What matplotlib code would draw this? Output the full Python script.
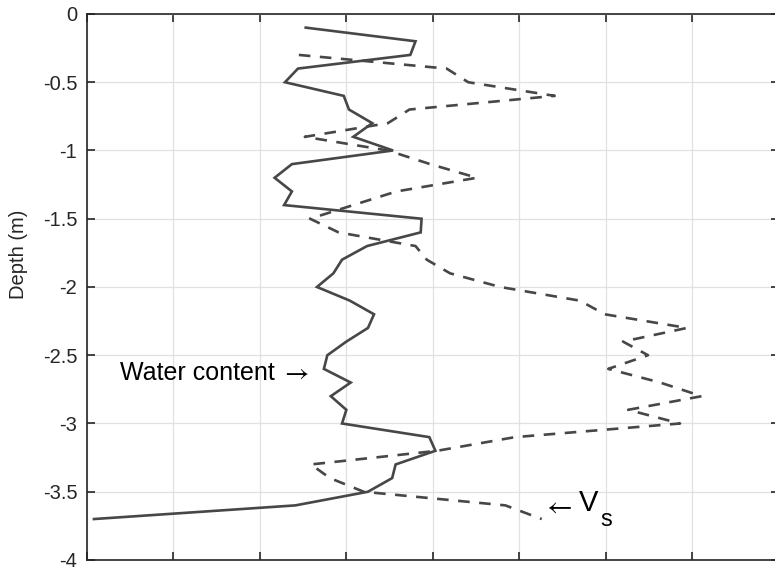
import matplotlib
matplotlib.use('Agg')
import matplotlib.pyplot as plt

plt.rcParams['font.family'] = ['Liberation Sans', 'DejaVu Sans']
plt.rcParams['mathtext.fontset'] = 'stix'

# water content profile, 0.1 m steps
depth_wc = [-0.1, -0.2, -0.3, -0.4, -0.5, -0.6, -0.7, -0.8, -0.9, -1.0,
            -1.1, -1.2, -1.3, -1.4, -1.5, -1.6, -1.7, -1.8, -1.9, -2.0,
            -2.1, -2.2, -2.3, -2.4, -2.5, -2.6, -2.7, -2.8, -2.9, -3.0,
            -3.1, -3.2, -3.3, -3.4, -3.5, -3.6, -3.7]
water = [2.53, 3.80, 3.74, 2.44, 2.29, 2.97, 3.03, 3.30, 3.08, 3.54,
         2.37, 2.17, 2.37, 2.28, 3.87, 3.86, 3.24, 2.95, 2.85, 2.66,
         3.04, 3.32, 3.25, 3.00, 2.78, 2.74, 3.05, 2.82, 3.00, 2.95,
         3.96, 4.03, 3.57, 3.53, 3.25, 2.41, 0.08]

# shear wave velocity profile
depth_vs = [-0.3, -0.4, -0.5, -0.6, -0.7, -0.8, -0.9, -1.0, -1.1, -1.2,
            -1.3, -1.4, -1.5, -1.6, -1.7, -1.8, -1.9, -2.0, -2.1, -2.2,
            -2.3, -2.4, -2.5, -2.6, -2.7, -2.8, -2.9, -3.0, -3.1, -3.2,
            -3.3, -3.4, -3.5, -3.6, -3.7]
vs = [2.45, 4.16, 4.41, 5.41, 3.73, 3.48, 2.52, 3.48, 3.97, 4.51,
      3.58, 3.08, 2.58, 2.91, 3.80, 3.93, 4.20, 4.78, 5.70, 5.99,
      6.94, 6.20, 6.49, 6.03, 6.63, 7.11, 6.26, 6.86, 4.95, 4.05,
      2.59, 2.81, 3.20, 4.84, 5.26]

yticks = [0, -0.5, -1, -1.5, -2, -2.5, -3, -3.5, -4]
ytick_labels = ['0', '-0.5', '-1', '-1.5', '-2', '-2.5', '-3', '-3.5', '-4']

line_col = '#474747'

fig = plt.figure(figsize=(7.75, 5.68), dpi=100)
ax = fig.add_axes([0.1123, 0.0141, 0.8923, 0.9613])

ax.plot(water, depth_wc, color=line_col, lw=1.9, solid_joinstyle='miter')
ax.plot(vs, depth_vs, color=line_col, lw=1.9, dashes=(4.4, 3.6),
        dash_capstyle='butt')

ax.set_xlim(0, 8)
ax.set_ylim(-4, 0)
ax.set_xticks(range(0, 9))
ax.set_xticklabels([])
ax.set_yticks(yticks)
ax.set_yticklabels(ytick_labels)
ax.tick_params(direction='in', length=6, width=1.2, top=True, right=True,
               labelsize=14.5, pad=7, colors='#262626')
ax.grid(True, color='#e1e1e1', lw=0.9)
ax.set_axisbelow(True)
for s in ax.spines.values():
    s.set_linewidth(1.2)
    s.set_color('#262626')

ax.set_ylabel('Depth (m)', fontsize=14.5, color='#262626')
ax.yaxis.set_label_coords(-0.086, 0.56)

# labels with long thin arrows pointing at each curve
ax.text(2.175, -2.68, 'Water content', fontsize=18, ha='right', va='baseline')
ax.text(2.57, -2.68, r'$\rightarrow$', fontsize=19, ha='right', va='baseline')
ax.text(5.26, -3.66, r'$\leftarrow$', fontsize=20, ha='left', va='baseline')
ax.text(5.69, -3.641, 'V', fontsize=21, ha='left', va='baseline')
ax.text(5.935, -3.751, 's', fontsize=17, ha='left', va='baseline')

fig.savefig('out.png', dpi=100)
